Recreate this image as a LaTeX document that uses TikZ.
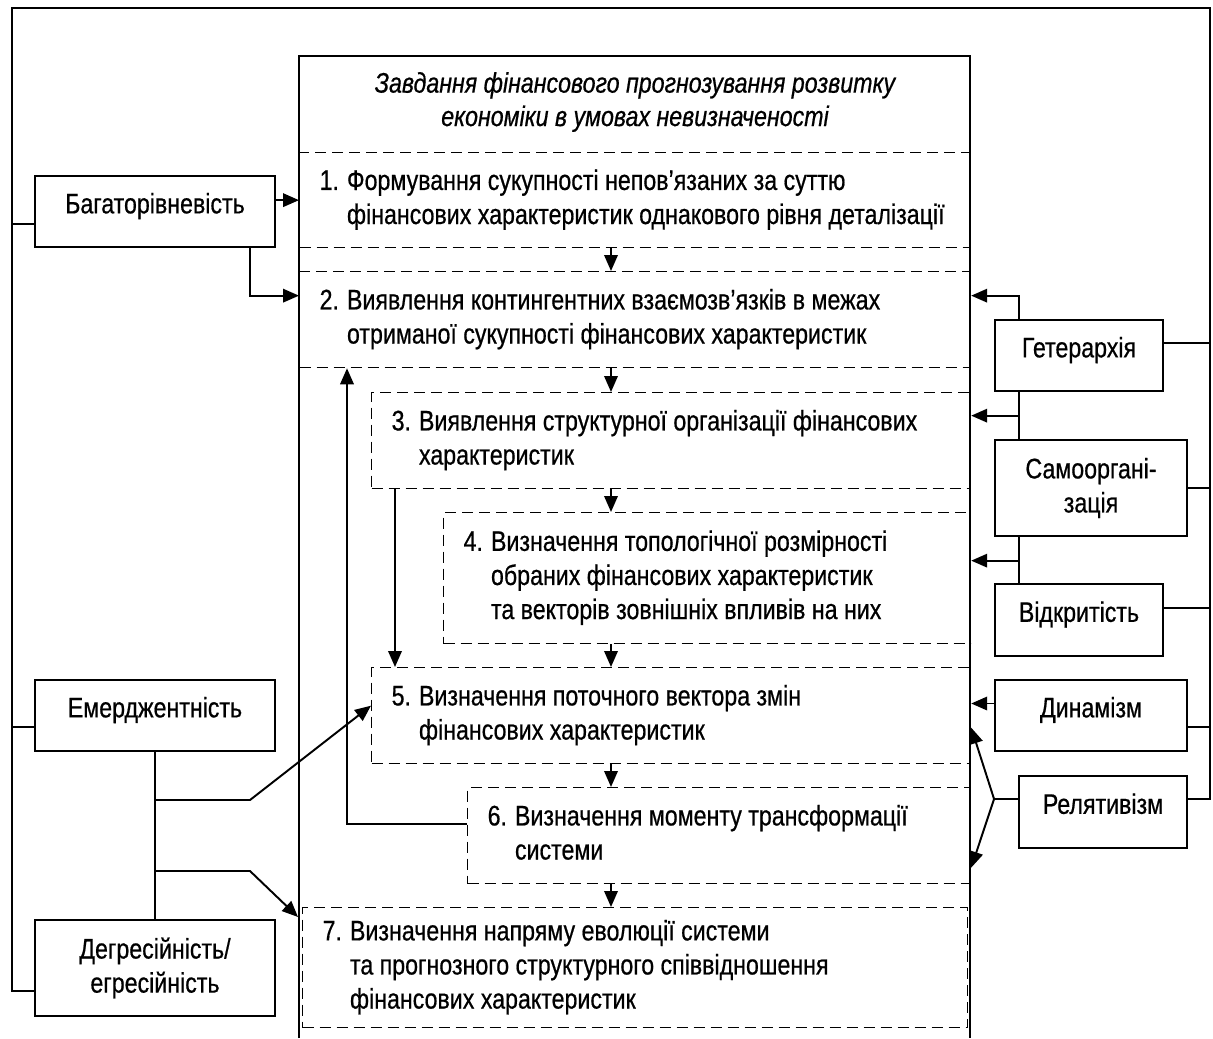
\documentclass[tikz,border=0pt]{standalone}
\usepackage{fontspec}
\setmainfont{Liberation Sans}[FakeStretch=0.82,FakeBold=0.6]
\usetikzlibrary{arrows.meta}

\newcommand\tasktext[1]{\spaceskip=0pt\xspaceskip=0pt\relax
  \begin{tabular}{@{}l@{\hspace{.16cm}}l@{}}#1\end{tabular}}

\tikzset{
  link/.style={line width=1.1pt},
  arr/.style={link,-{Triangle[length=.32cm,width=.27cm]}},
  prop/.style={draw,link,align=center,inner sep=0pt,minimum width=#1},
  lift/.style={text height=.75em,text depth=.54em},
  task/.style={draw,line width=.75pt,dash pattern=on .22cm off .12cm,anchor=north west,
    inner xsep=.4cm,inner ysep=0pt,align=left}
}

\begin{document}
\begin{tikzpicture}[x=.02cm,y=-.02cm,font=\fontsize{16.1pt}{19.4pt}\selectfont]
  \useasboundingbox (0,0) rectangle (1213,1038);
  \draw[link] (299,1038) -- (299,56) -- (970,56) -- (970,1038);
  \node[font=\fontsize{16.1pt}{19pt}\selectfont\itshape,align=center] (title) at (635,102)
    {Завдання фінансового прогнозування розвитку\\економіки в умовах невизначеності};

  \node[task,text width=12.62cm,minimum height=1.9cm] (b1) at (299,152)
    {\tasktext{1. & Формування сукупності непов’язаних за суттю\\ & фінансових характеристик однакового рівня деталізації}};
  \node[task,text width=12.62cm,minimum height=1.92cm] (b2) at (299,271)
    {\tasktext{2. & Виявлення контингентних взаємозв’язків в межах\\ & отриманої сукупності фінансових характеристик}};
  \node[task,text width=11.18cm,minimum height=1.92cm] (b3) at (371,392)
    {\tasktext{3. & Виявлення структурної організації фінансових\\ & характеристик}};
  \node[task,text width=9.74cm,minimum height=2.62cm] (b4) at (443,512)
    {\tasktext{4. & Визначення топологічної розмірності\\ & обраних фінансових характеристик\\ & та векторів зовнішніх впливів на них}};
  \node[task,text width=11.18cm,minimum height=1.92cm] (b5) at (371,667)
    {\tasktext{5. & Визначення поточного вектора змін\\ & фінансових характеристик}};
  \node[task,text width=9.26cm,minimum height=1.92cm] (b6) at (467,787)
    {\tasktext{6. & Визначення моменту трансформації\\ & системи}};
  \node[task,text width=12.5cm,minimum height=2.4cm] (b7) at (302,907)
    {\tasktext{7. & Визначення напряму еволюції системи\\ & та прогнозного структурного співвідношення\\ & фінансових характеристик}};

  \node[prop=4.8cm,lift,minimum height=1.42cm] (bag) at (155,211.5) {Багаторівневість};
  \node[prop=4.8cm,lift,minimum height=1.42cm] (emer) at (155,715.5) {Емерджентність};
  \node[prop=4.8cm,minimum height=1.92cm] (degr) at (155,968) {Дегресійність/\\егресійність};
  \node[prop=3.36cm,lift,minimum height=1.42cm] (geter) at (1079,355.5) {Гетерархія};
  \node[prop=3.84cm,minimum height=1.92cm] (samo) at (1091,488) {Самооргані-\\зація};
  \node[prop=3.36cm,lift,minimum height=1.44cm] (vidk) at (1079,620) {Відкритість};
  \node[prop=3.84cm,lift,minimum height=1.42cm] (dyn) at (1091,715.5) {Динамізм};
  \node[prop=3.36cm,lift,minimum height=1.44cm] (rel) at (1103,812) {Релятивізм};

  \coordinate (lt) at (12,8);
  \coordinate (rt) at (1210,8);
  \coordinate (cx) at (611,0);
  \coordinate (fx) at (347,0);
  \coordinate (vr) at (1019,0);
  \coordinate (e1) at (250,800);
  \coordinate (e2) at (250,871);
  \coordinate (a3) at ([yshift=.5cm]b3.east);
  \coordinate (a4) at ([yshift=.35cm]b4.east);
  \coordinate (a5) at ([yshift=.24cm]dyn.west);
  \coordinate (rv) at ([xshift=-.48cm,yshift=.26cm]rel.west);

  \draw[link] ([yshift=-.46cm]degr.west) -| (lt) -- (rt) |- ([yshift=.26cm]rel.east);
  \draw[link] ([yshift=-.25cm]bag.west) -| (lt);
  \draw[link] ([yshift=-.23cm]emer.west) -| (lt);
  \draw[link] ([yshift=.25cm]geter.east) -| (rt);
  \draw[link] (samo.east) -| (rt);
  \draw[link] ([yshift=.24cm]vidk.east) -| (rt);
  \draw[link] ([yshift=-.23cm]dyn.east) -| (rt);

  \foreach \a/\b in {b1/b2,b2/b3,b3/b4,b4/b5,b5/b6,b6/b7}
    \draw[arr] (\a.south -| cx) -- (\b.north -| cx);
  \draw[arr] ([xshift=.48cm]b3.south west) -- ([xshift=.48cm]b5.north west);
  \draw[arr] ([yshift=.24cm]b6.west) -| (b2.south -| fx);

  \draw[arr] (bag.east |- b1.west) -- (b1.west);
  \draw[arr] ([xshift=1.9cm]bag.south) |- ([yshift=.48cm]b2.west);
  \draw[link] (emer.south) -- (degr.north);
  \draw[arr] (emer.south |- e1) -- (e1) -- ([yshift=.2cm]b5.west);
  \draw[arr] (emer.south |- e2) -- (e2) -- ([xshift=-.08cm,yshift=-.2cm]b7.north west);

  \draw[arr] (geter.north -| vr) |- ([yshift=.48cm]b2.east);
  \draw[link] (geter.south -| vr) -- (samo.north -| vr);
  \draw[link] (samo.south -| vr) -- (vidk.north -| vr);
  \draw[arr] (a3 -| vr) -- (a3);
  \draw[arr] (a4 -| vr) -- (a4);
  \draw[arr] (a5) -- (a5 -| b5.east);
  \draw[link] ([yshift=.26cm]rel.west) -- (rv);
  \draw[arr] (rv) -- ([yshift=-.24cm]b5.east);
  \draw[arr] (rv) -- ([yshift=-.64cm]b6.east);
\end{tikzpicture}
\end{document}
